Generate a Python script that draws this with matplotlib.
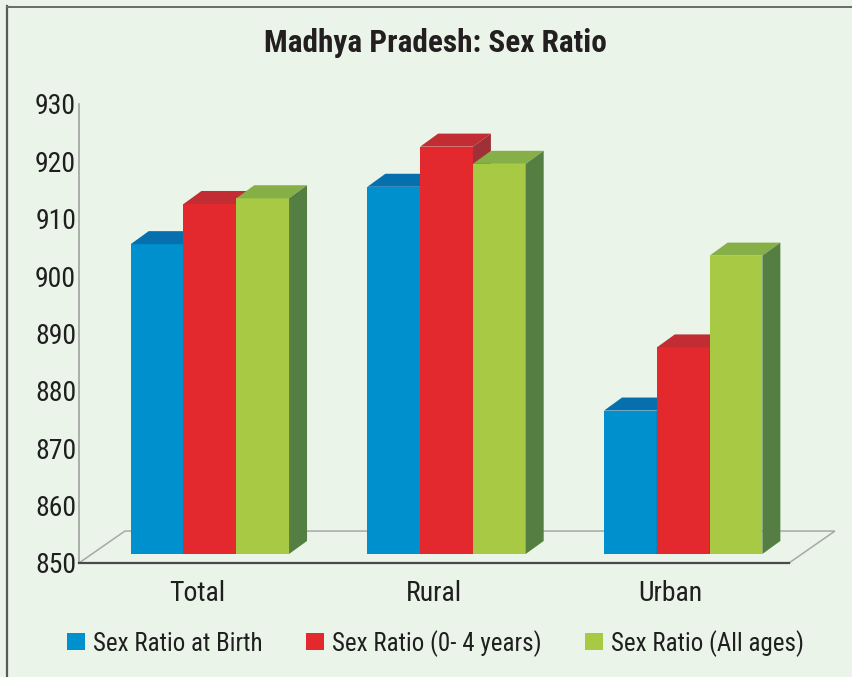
import matplotlib
matplotlib.use('Agg')
import matplotlib.pyplot as plt
from matplotlib.patches import Polygon, Patch
from matplotlib.lines import Line2D

plt.rcParams['font.family'] = ['Roboto Condensed', 'Liberation Sans', 'DejaVu Sans']

categories = ['Total', 'Rural', 'Urban']
series_names = ['Sex Ratio at Birth', 'Sex Ratio (0- 4 years)', 'Sex Ratio (All ages)']
birth = [904, 914, 875]
age0_4 = [911, 921, 886]
all_ages = [912, 918, 902]
y_ticks = [850, 860, 870, 880, 890, 900, 910, 920, 930]

front_cols = ['#0090cd', '#e3292e', '#a8c943']
top_cols = ['#0670ae', '#c22d34', '#86af48']
side_cols = ['#0a5a8c', '#9e3038', '#557f42']
bg = '#eaf4e8'

fig = plt.figure(figsize=(8.53, 6.77), dpi=100, facecolor=bg)
ax = fig.add_axes([79/853, 114/677, 710/853, 459/677])
ax.set_facecolor(bg)
ax.set_xlim(-0.5, 2.5)
ax.set_ylim(850, 930)

# oblique projection offsets
floor_dx, floor_dy = 0.194, 5.57
plane_dx, plane_dy = 0.053, 1.57
bar_dx, bar_dy = 0.076, 2.27
w = 0.223

# floor
base = 850
fl = [(-0.5, base), (-0.5 + floor_dx, base + floor_dy), (2.5 + floor_dx, base + floor_dy), (2.5, base)]
ax.add_patch(Polygon(fl, closed=False, fill=False, edgecolor='#a8a8a8', lw=1.1, clip_on=False, zorder=1))

data = [birth, age0_4, all_ages]
for i in range(len(categories)):
    for j in range(3):
        v = data[j][i]
        x0 = i + plane_dx + (j - 1.5) * w
        x1 = x0 + w
        b = base + plane_dy
        t = v + plane_dy
        ax.add_patch(Polygon([(x0, b), (x1, b), (x1, t), (x0, t)], facecolor=front_cols[j],
                             edgecolor='none', clip_on=False, zorder=2))
        ax.add_patch(Polygon([(x0, t), (x1, t), (x1 + bar_dx, t + bar_dy), (x0 + bar_dx, t + bar_dy)],
                             facecolor=top_cols[j], edgecolor='none', clip_on=False, zorder=2))
        ax.add_patch(Polygon([(x1, b), (x1 + bar_dx, b + bar_dy), (x1 + bar_dx, t + bar_dy), (x1, t)],
                             facecolor=side_cols[j], edgecolor='none', clip_on=False, zorder=2))

for s in ['top', 'right']:
    ax.spines[s].set_visible(False)
ax.spines['left'].set_color('#9a9a9a')
ax.spines['left'].set_linewidth(1.1)
ax.spines['bottom'].set_color('#4a4a4a')
ax.spines['bottom'].set_linewidth(1.6)
ax.spines['bottom'].set_zorder(3)

ax.set_yticks(y_ticks)
ax.set_yticklabels([str(t) for t in y_ticks], fontsize=20, color='#1f1f1f')
ax.set_xticks(range(len(categories)))
ax.set_xticklabels(categories, fontsize=20, color='#1f1f1f')
ax.tick_params(axis='y', length=0, pad=2)
ax.tick_params(axis='x', length=0, pad=12)

fig.text(0.511, 0.937, 'Madhya Pradesh: Sex Ratio', ha='center', va='center',
         fontsize=22.5, fontweight='bold', color='#231f20')

handles = [Patch(facecolor=c, edgecolor='none') for c in front_cols]
fig.legend(handles, series_names, loc='center', bbox_to_anchor=(0.5106, 0.050), ncol=3,
           frameon=False, fontsize=18, handlelength=0.72, handleheight=0.68,
           handletextpad=0.3, columnspacing=1.75, labelcolor='#1f1f1f')

# outer frame
fig.add_artist(Line2D([7/853, 7/853], [0, 1 - 6/677], transform=fig.transFigure, color='#5a5a5a', lw=1.6))
fig.add_artist(Line2D([7/853, 1], [1 - 6.5/677, 1 - 6.5/677], transform=fig.transFigure, color='#6a6a6a', lw=1.4))

fig.savefig('out.png', dpi=100, facecolor=bg)
